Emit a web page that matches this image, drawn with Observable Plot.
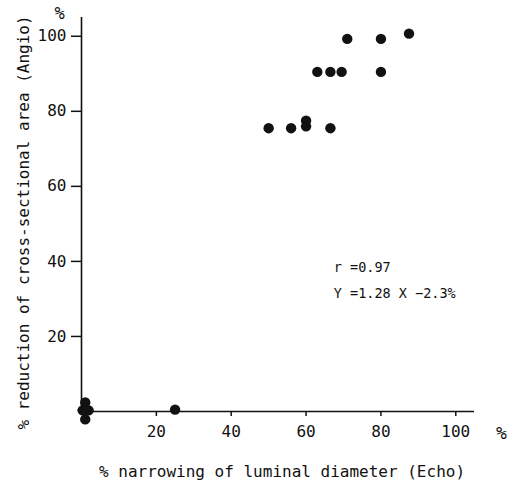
<!DOCTYPE html>
<html>
<head>
<meta charset="utf-8">
<script src="https://cdn.jsdelivr.net/npm/d3@7"></script>
<script src="https://cdn.jsdelivr.net/npm/@observablehq/plot@0.6"></script>
<style>
  html, body { margin: 0; padding: 0; background: #fff; }
  svg { font-family: "DejaVu Sans Mono", monospace; }
</style>
</head>
<body>
<div id="chart"></div>
<script>
// Echo (% narrowing of luminal diameter) vs Angio (% reduction of cross-sectional area)
const echo  = [0.3, 1.9, 1.0, 1.0, 1.0, 25, 50, 56, 60, 60, 66.5, 63, 66.5, 69.5, 80, 71, 80, 87.5];
const angio = [0.3, 0.3, 2.4, -2.1, 0.3, 0.5, 75.5, 75.5, 77.5, 76, 75.5, 90.5, 90.5, 90.5, 90.5, 99.3, 99.3, 100.7];
const xTicks = [20, 40, 60, 80, 100];
const yTicks = [20, 40, 60, 80, 100];
const stats = ["r =0.97", "Y =1.28 X −2.3%"];

const data = echo.map((x, i) => ({x, y: angio[i]}));
const mono = "DejaVu Sans Mono, monospace";

const chart = Plot.plot({
  width: 519,
  height: 481,
  marginLeft: 81,
  marginRight: 45,
  marginTop: 17,
  marginBottom: 70,
  style: {fontFamily: mono, background: "#fff", color: "#111"},
  x: {domain: [0, 105]},
  y: {domain: [0, 105]},
  marks: [
    Plot.ruleX([0], {stroke: "#111", strokeWidth: 1.6}),
    Plot.ruleY([0], {stroke: "#111", strokeWidth: 1.6}),
    Plot.axisX({ticks: xTicks, tickSize: 5, tickPadding: 9, fontSize: 16, label: null, tickFormat: d => d, strokeWidth: 1.5}),
    Plot.axisY({ticks: yTicks, tickSize: 10, tickPadding: 5, fontSize: 16, label: null, tickFormat: d => d, strokeWidth: 1.5}),
    Plot.dot(data, {x: "x", y: "y", r: 5.2, fill: "#111", stroke: "none"}),
    Plot.text([stats[0]], {x: 67.4, y: 38.4, text: d => d, textAnchor: "start", fontSize: 13.5, fill: "#111"}),
    Plot.text([stats[1]], {x: 67.4, y: 31.5, text: d => d, textAnchor: "start", fontSize: 13.5, fill: "#111"}),
    Plot.text(["% narrowing of luminal diameter (Echo)"], {frameAnchor: "bottom", dx: 4, dy: 60, textAnchor: "middle", lineAnchor: "middle", text: d => d, fontSize: 16, fill: "#111"}),
    Plot.text(["% reduction of cross-sectional area (Angio)"], {frameAnchor: "left", dx: -58, dy: 8, textAnchor: "middle", rotate: -90, text: d => d, fontSize: 16, fill: "#111"}),
    Plot.text(["%"], {frameAnchor: "top-left", dx: -22, dy: -4, textAnchor: "middle", lineAnchor: "middle", text: d => d, fontSize: 17, fill: "#111"}),
    Plot.text(["%"], {frameAnchor: "bottom-right", dx: 27, dy: 22, textAnchor: "middle", lineAnchor: "middle", text: d => d, fontSize: 18, fill: "#111"})
  ]
});
document.getElementById("chart").appendChild(chart);
</script>
</body>
</html>
